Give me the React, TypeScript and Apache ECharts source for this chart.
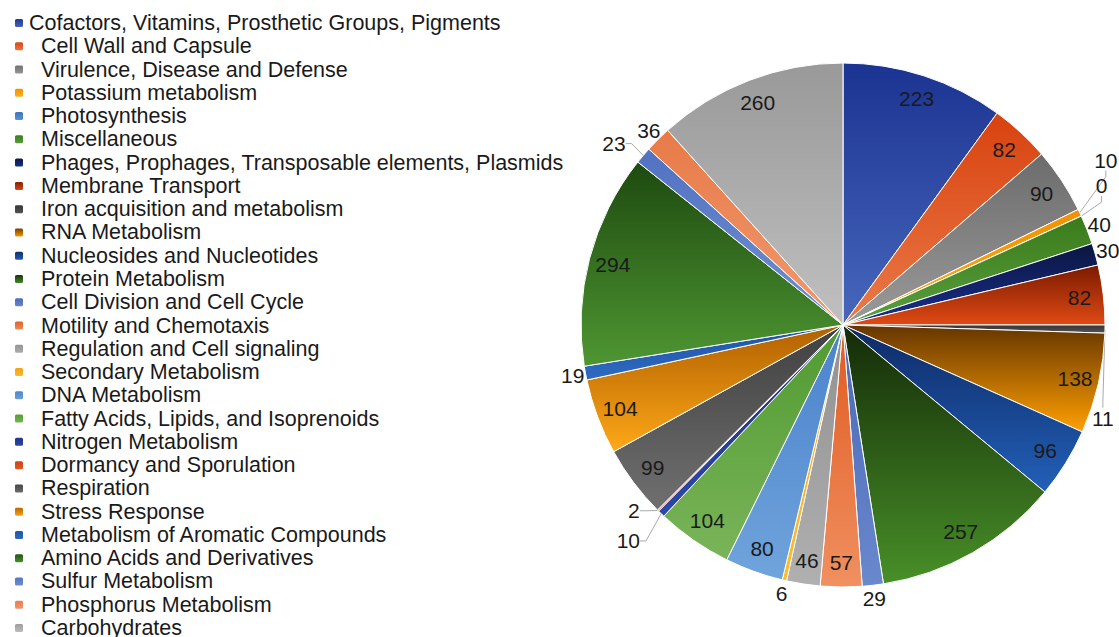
import React, { useEffect, useRef } from "react";
import * as echarts from "echarts";

const categories = [
  "Cofactors, Vitamins, Prosthetic Groups, Pigments",
  "Cell Wall and Capsule",
  "Virulence, Disease and Defense",
  "Potassium metabolism",
  "Photosynthesis",
  "Miscellaneous",
  "Phages, Prophages, Transposable elements, Plasmids",
  "Membrane Transport",
  "Iron acquisition and metabolism",
  "RNA Metabolism",
  "Nucleosides and Nucleotides",
  "Protein Metabolism",
  "Cell Division and Cell Cycle",
  "Motility and Chemotaxis",
  "Regulation and Cell signaling",
  "Secondary Metabolism",
  "DNA Metabolism",
  "Fatty Acids, Lipids, and Isoprenoids",
  "Nitrogen Metabolism",
  "Dormancy and Sporulation",
  "Respiration",
  "Stress Response",
  "Metabolism of Aromatic Compounds",
  "Amino Acids and Derivatives",
  "Sulfur Metabolism",
  "Phosphorus Metabolism",
  "Carbohydrates",
];

const values = [
  223, 82, 90, 10, 0, 40, 30, 82, 11, 138, 96, 257, 29, 57, 46, 6, 80, 104, 10, 2,
  99, 104, 19, 294, 23, 36, 260,
];

// gradient colours per slice: top (dark) and bottom (light)
const topColors = [
  "#1b3391", "#d8420f", "#6c6c6c", "#f09000", "#3a70b8", "#3a7a1a", "#0a1640",
  "#7a1a00", "#333333", "#653500", "#0e2a66", "#142a08", "#4868b8", "#e05a20",
  "#909090", "#f0a010", "#4a82cc", "#509a30", "#1c3488", "#c84010", "#404040",
  "#b06000", "#1e52a8", "#1e4a10", "#5272c2", "#e87a48", "#999999",
];
const bottomColors = [
  "#4767bd", "#ea7a48", "#9a9a9a", "#ffb020", "#5a96d8", "#5aa040", "#1a3090",
  "#e04a14", "#555555", "#ffa000", "#2260b8", "#489028", "#6a88cc", "#f09060",
  "#b0b0b0", "#ffbc30", "#70a4dc", "#7ab45a", "#2c48a8", "#e85a28", "#707070",
  "#ffa818", "#2e6cc0", "#4e9632", "#7090d0", "#f09a70", "#c0c0c0",
];

// small slices whose value label sits outside with a leader line,
// with a nudge [dx, dy] (px) applied to the library-computed label position
const leaderNudges: Record<string, [number, number]> = {
  "Potassium metabolism": [0, -50],
  "Photosynthesis": [0, -28],
  "Iron acquisition and metabolism": [-28, 89],
  "Nitrogen Metabolism": [-8, 23],
  "Dormancy and Sporulation": [-5, -4],
  "Sulfur Metabolism": [-4, -8],
};

const FONT = "'Liberation Sans', Arial, sans-serif";
const TEXT = "#1a1a1a";

export default function App() {
  const ref = useRef<HTMLDivElement>(null);

  useEffect(() => {
    if (!ref.current) return;
    const chart = echarts.init(ref.current, undefined, { renderer: "svg" });

    const grad = (i: number) =>
      new echarts.graphic.LinearGradient(0, 0, 0, 1, [
        { offset: 0, color: topColors[i] },
        { offset: 1, color: bottomColors[i] },
      ]);

    const mainData = categories.map((name, i) => {
      const leader = name in leaderNudges;
      return {
        name,
        value: values[i],
        itemStyle: { color: grad(i) },
        label: { show: leader },
        labelLine: { show: leader },
      };
    });

    // label-only rings: big slices get labels near the rim, small ones just outside
    const innerLabelData = categories.map((name, i) => ({
      name,
      value: values[i],
      label: { show: values[i] > 40 },
    }));
    const outerLabelData = categories.map((name, i) => ({
      name,
      value: values[i],
      label: { show: values[i] <= 40 && !(name in leaderNudges) },
    }));

    const labelSeries = (r: number, data: any[]) => ({
      type: "pie",
      center: [843, 325],
      radius: [0, r],
      startAngle: 90,
      clockwise: true,
      silent: true,
      legendHoverLink: false,
      itemStyle: { color: "rgba(0,0,0,0)", borderWidth: 0 },
      label: {
        position: "inside",
        fontFamily: FONT,
        fontSize: 21,
        color: TEXT,
        formatter: "{c}",
      },
      labelLine: { show: false },
      emphasis: { disabled: true },
      data,
    });

    chart.setOption({
      animation: false,
      backgroundColor: "#ffffff",
      legend: {
        orient: "vertical",
        left: 13,
        top: 12,
        height: 700,
        padding: 0,
        itemWidth: 10,
        itemHeight: 10,
        itemGap: 1.27,
        selectedMode: false,
        data: categories,
        formatter: (name: string) =>
          name === categories[0] ? `{a|${name}}` : `{b|${name}}`,
        textStyle: {
          fontFamily: FONT,
          fontSize: 21.5,
          color: TEXT,
          rich: {
            a: { fontFamily: FONT, fontSize: 21.5, color: TEXT, lineHeight: 22 },
            b: {
              fontFamily: FONT,
              fontSize: 21.5,
              color: TEXT,
              lineHeight: 22,
              padding: [0, 0, 0, 12],
            },
          },
        },
      },
      series: [
        {
          type: "pie",
          center: [843, 325],
          radius: [0, 262],
          startAngle: 90,
          clockwise: true,
          avoidLabelOverlap: false,
          itemStyle: { borderColor: "#ffffff", borderWidth: 1 },
          label: {
            position: "outside",
            fontFamily: FONT,
            fontSize: 21,
            color: TEXT,
            formatter: "{c}",
            overflow: "none",
            distanceToLabelLine: 3,
          },
          labelLine: {
            length: 6,
            length2: 6,
            lineStyle: { color: "#a8a8a8", width: 1 },
          },
          labelLayout: (p: any) => {
            const nudge = leaderNudges[categories[p.dataIndex]];
            if (!nudge || !p.labelRect) return {};
            const r = p.labelRect;
            const ax =
              p.align === "right"
                ? r.x + r.width
                : p.align === "center"
                ? r.x + r.width / 2
                : r.x;
            return { x: ax + nudge[0], y: r.y + r.height / 2 + nudge[1] };
          },
          emphasis: { disabled: true },
          data: mainData,
        },
        labelSeries(470, innerLabelData),
        labelSeries(544, outerLabelData),
      ],
    });

    return () => chart.dispose();
  }, []);

  return (
    <div
      ref={ref}
      style={{ position: "fixed", left: 0, top: 0, width: 1119, height: 637 }}
    />
  );
}
